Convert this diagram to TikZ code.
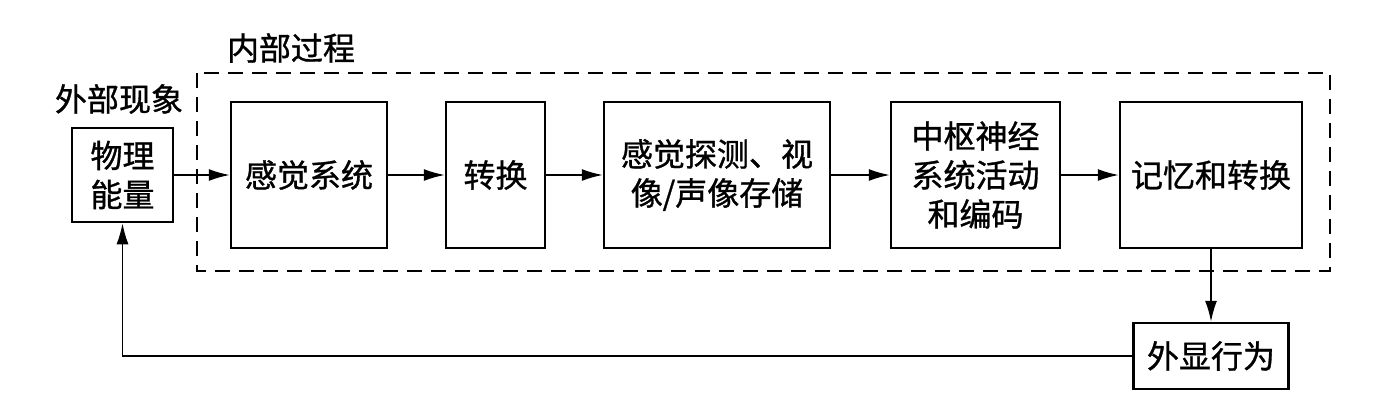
\documentclass[tikz,border=0pt]{standalone}
\usepackage{fontspec}
\setmainfont{Noto Sans CJK SC}[FakeBold=1]
\usetikzlibrary{arrows.meta}
\begin{document}
\begin{tikzpicture}[x=1pt,y=-1pt,
  every node/.style={font=\fontsize{32pt}{39pt}\selectfont},
  box/.style={draw,line width=2.5pt,inner sep=0pt,align=center,minimum height=146pt},
  lbl/.style={inner sep=0pt},
  arr/.style={line width=1.6pt,-{Latex[length=21pt,width=12pt]}},
  frame/.style={draw,line width=2pt,dash pattern=on 15pt off 9pt}]
\useasboundingbox (0,0) rectangle (1388,413);
\fill[white] (0,0) rectangle (1388,413);
\draw[frame] (197,73) rectangle (1330,271);
\node[lbl] (inner) at (291,48) {内部过程};
\node[lbl] (outer) at (119,99) {外部现象};
\node[box,minimum width=101pt,minimum height=94pt] (phys) at (122.5,175) {物理\\能量};
\node[box,minimum width=156pt] (sens) at (309,175) {感觉系统};
\node[box,minimum width=99pt] (conv) at (495.5,175) {转换};
\node[box,minimum width=226pt] (det) at (717,175) {感觉探测、视\\像/声像存储};
\node[box,minimum width=169pt] (cns) at (975.5,175) {中枢神经\\系统活动\\和编码};
\node[box,minimum width=182pt] (mem) at (1211,175) {记忆和转换};
\node[box,minimum width=155pt,minimum height=66pt] (beh) at (1211,356) {外显行为};
\draw[arr] (phys) -- (sens);
\draw[arr] (sens) -- (conv);
\draw[arr] (conv) -- (det);
\draw[arr] (det) -- (cns);
\draw[arr] (cns) -- (mem);
\draw[arr] (mem) -- (beh);
\draw[arr] (beh.west) -- (phys.south |- beh.west) -- (phys.south);
\end{tikzpicture}
\end{document}
